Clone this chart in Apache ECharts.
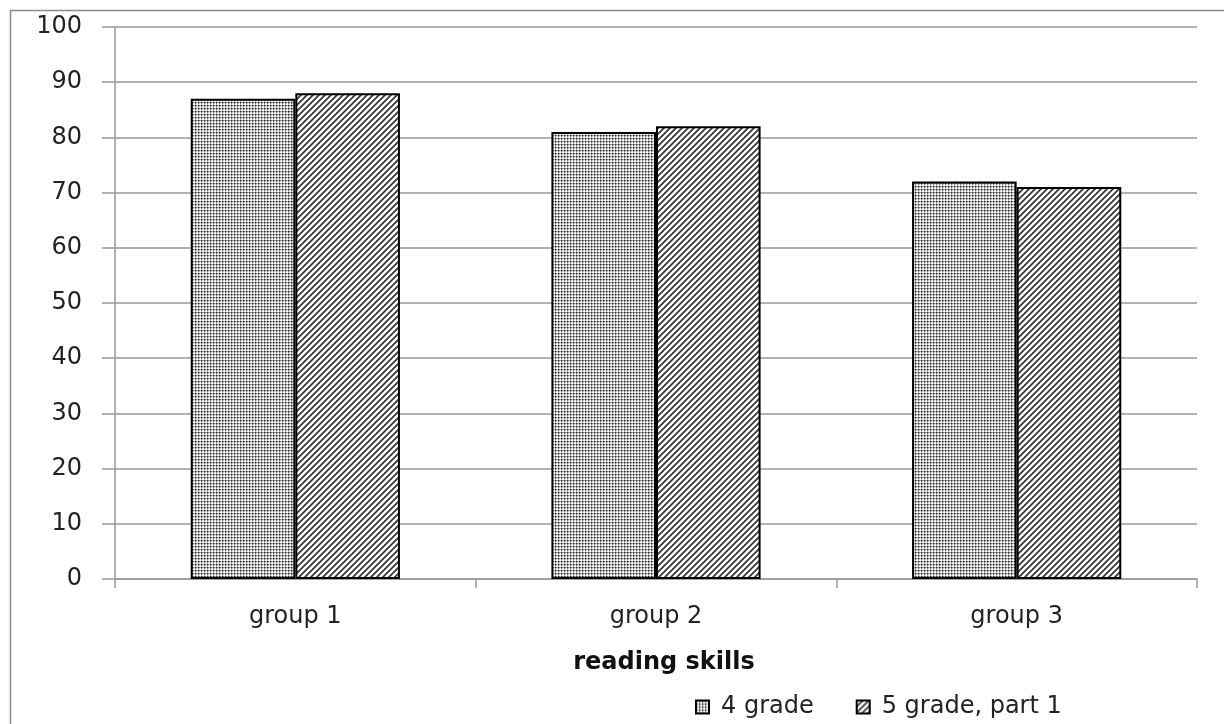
<!DOCTYPE html>
<html>
<head>
<meta charset="utf-8">
<script src="https://cdn.jsdelivr.net/npm/echarts@6/dist/echarts.min.js"></script>
<style>
  html, body { margin: 0; padding: 0; background: #fff; }
  #chart { width: 1224px; height: 724px; }
</style>
</head>
<body>
<div id="chart"></div>
<script>
// Reading skills scores by group
const categories = ['group 1', 'group 2', 'group 3'];
const grade4 = [87, 81, 72];
const grade5part1 = [88, 82, 71];
const seriesNames = ['4 grade', '5 grade, part 1'];
const axisTitle = 'reading skills';

// Fine dotted fill
function dotPattern() {
  const c = document.createElement('canvas');
  c.width = 3; c.height = 3;
  const g = c.getContext('2d');
  g.fillStyle = '#f4f4f4'; g.fillRect(0, 0, 3, 3);
  const px = (x, y, col) => { g.fillStyle = col; g.fillRect(x, y, 1, 1); };
  px(0, 0, '#262626');
  px(1, 0, '#7a7a7a'); px(0, 1, '#7a7a7a');
  px(2, 0, '#b8b8b8'); px(0, 2, '#b8b8b8');
  px(1, 1, '#cfcfcf');
  return c;
}

// Diagonal "/" hatch fill
function hatchPattern() {
  const s = 6;
  const c = document.createElement('canvas');
  c.width = s; c.height = s;
  const g = c.getContext('2d');
  g.fillStyle = '#ffffff'; g.fillRect(0, 0, s, s);
  g.strokeStyle = '#333333';
  g.lineWidth = 1.7;
  g.beginPath();
  g.moveTo(-1, s + 1); g.lineTo(s + 1, -1);
  g.moveTo(-1, 1); g.lineTo(1, -1);
  g.moveTo(s - 1, s + 1); g.lineTo(s + 1, s - 1);
  g.stroke();
  return c;
}

const fills = [
  { image: dotPattern(), repeat: 'repeat' },
  { image: hatchPattern(), repeat: 'repeat' }
];

const chart = echarts.init(document.getElementById('chart'), null, { renderer: 'canvas' });
const font = '"DejaVu Sans", sans-serif';

chart.setOption({
  animation: false,
  backgroundColor: '#ffffff',
  textStyle: { fontFamily: font },
  graphic: [{
    type: 'rect',
    shape: { x: 10.5, y: 10.5, width: 1240, height: 760 },
    style: { fill: 'none', stroke: '#8c8c8c', lineWidth: 1.5 },
    silent: true, z: -1
  }],
  grid: { left: 115, right: 27, top: 27, bottom: 145, containLabel: false },
  legend: {
    left: 690, top: 690,
    itemWidth: 13, itemHeight: 13, itemGap: 42,
    icon: 'rect',
    textStyle: { fontFamily: font, fontSize: 24, color: '#222', padding: [0, 0, 0, 7] },
    data: seriesNames
  },
  xAxis: {
    type: 'category',
    data: categories,
    name: axisTitle,
    nameLocation: 'middle',
    nameGap: 72,
    nameTextStyle: { fontFamily: font, fontSize: 24, fontWeight: 'bold', color: '#111', padding: [0, 0, 0, 16] },
    axisLine: { lineStyle: { color: '#999', width: 1.5 } },
    axisTick: { show: true, length: 9, alignWithLabel: false, lineStyle: { color: '#999', width: 1.5 } },
    axisLabel: { fontSize: 24, color: '#222', margin: 26, fontFamily: font }
  },
  yAxis: {
    type: 'value',
    min: 0, max: 100, interval: 10,
    axisLine: { show: true, lineStyle: { color: '#999', width: 1.5 } },
    axisTick: { show: true, length: 13, lineStyle: { color: '#999', width: 1.5 } },
    axisLabel: { fontSize: 24, color: '#222', margin: 33, fontFamily: font },
    splitLine: { lineStyle: { color: '#999', width: 1.5 } }
  },
  series: [
    {
      name: seriesNames[0], type: 'bar', data: grade4,
      barGap: '0%', barCategoryGap: '42%',
      itemStyle: { color: fills[0], borderColor: '#000', borderWidth: 2 }
    },
    {
      name: seriesNames[1], type: 'bar', data: grade5part1,
      barGap: '0%', barCategoryGap: '42%',
      itemStyle: { color: fills[1], borderColor: '#000', borderWidth: 2 }
    }
  ]
});
</script>
</body>
</html>
